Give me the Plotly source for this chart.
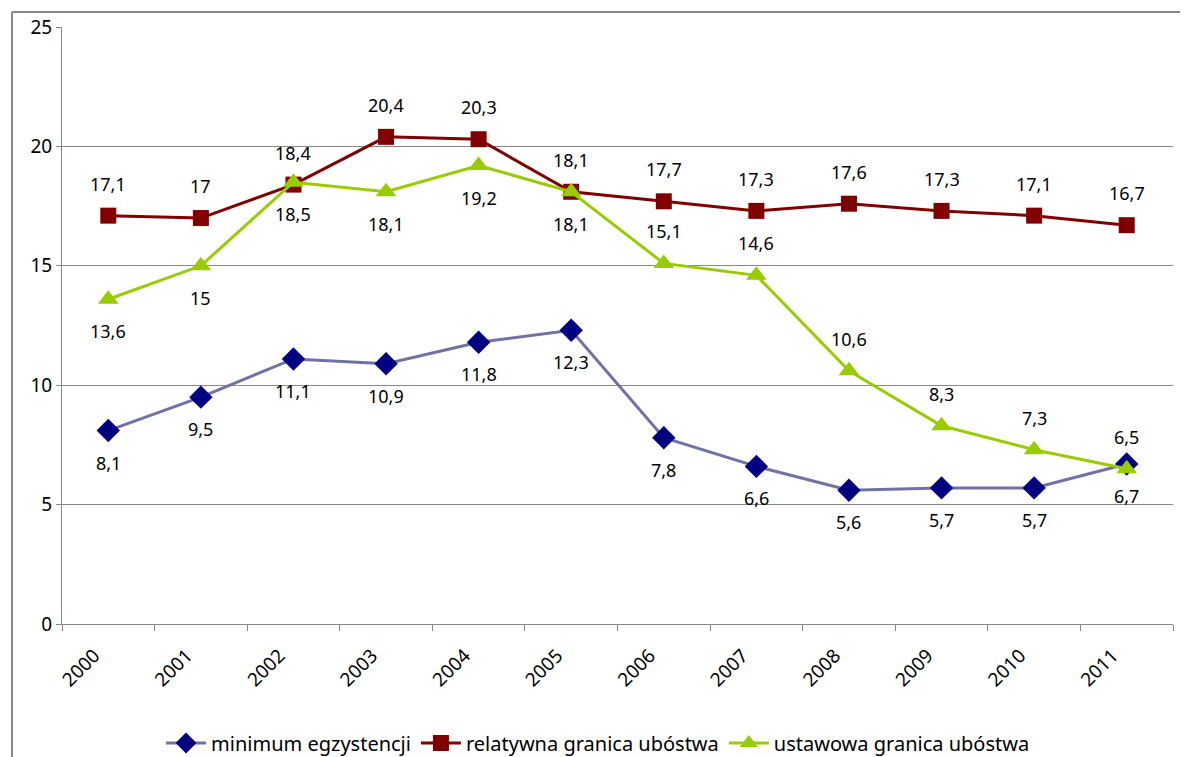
import plotly.graph_objects as go

years = ["2000", "2001", "2002", "2003", "2004", "2005", "2006", "2007", "2008", "2009", "2010", "2011"]
minimum = [8.1, 9.5, 11.1, 10.9, 11.8, 12.3, 7.8, 6.6, 5.6, 5.7, 5.7, 6.7]
relatywna = [17.1, 17.0, 18.4, 20.4, 20.3, 18.1, 17.7, 17.3, 17.6, 17.3, 17.1, 16.7]
ustawowa = [13.6, 15.0, 18.5, 18.1, 19.2, 18.1, 15.1, 14.6, 10.6, 8.3, 7.3, 6.5]

names = ["minimum egzystencji", "relatywna granica ubóstwa", "ustawowa granica ubóstwa"]
# label side per series: +1 above, -1 below
label_side_min = [-1] * 12
label_side_rel = [1] * 12
label_side_ust = [-1] * 6 + [1] * 6

FONT = "Noto Sans"
xs = list(range(len(years)))

def fmt(v):
    s = ("%.1f" % v).rstrip("0").rstrip(".")
    return s.replace(".", ",")

fig = go.Figure()
fig.add_trace(go.Scatter(x=xs, y=minimum, name=names[0], mode="lines+markers",
                         line=dict(color="#7171A6", width=3),
                         marker=dict(symbol="diamond", size=18, color="#000080")))
fig.add_trace(go.Scatter(x=xs, y=relatywna, name=names[1], mode="lines+markers",
                         line=dict(color="#800000", width=3),
                         marker=dict(symbol="square", size=16, color="#800000")))
fig.add_trace(go.Scatter(x=xs, y=ustawowa, name=names[2], mode="lines+markers",
                         line=dict(color="#99CC00", width=3),
                         marker=dict(symbol="triangle-up", size=18, color="#99CC00")))

annotations = []
for series, sides in [(minimum, label_side_min), (relatywna, label_side_rel), (ustawowa, label_side_ust)]:
    for x, v, s in zip(xs, series, sides):
        annotations.append(dict(x=x, y=v, xref="x", yref="y", text=fmt(v), showarrow=False,
                                yshift=32 * s, font=dict(family=FONT, size=18, color="#000000")))

fig.update_layout(
    width=1188, height=775,
    margin=dict(l=54, r=23, t=19, b=159),
    paper_bgcolor="white", plot_bgcolor="white",
    font=dict(family=FONT, size=18, color="#000000"),
    showlegend=True,
    legend=dict(orientation="h", x=0.4825, xanchor="center", y=-0.1993, yanchor="middle",
                font=dict(family=FONT, size=20), itemwidth=40, tracegroupgap=0),
    annotations=annotations,
    shapes=[
        dict(type="line", xref="paper", yref="paper", x0=-0.045, x1=1.03, y0=1.0251, y1=1.0251,
             line=dict(color="#888888", width=2)),
        dict(type="line", xref="paper", yref="paper", x0=-0.045, x1=-0.045, y0=1.0251, y1=-0.26,
             line=dict(color="#888888", width=2)),
    ],
)
fig.update_xaxes(tickmode="array", tickvals=xs, ticktext=years, ticks="",
                 minor=dict(tick0=-0.5, dtick=1, ticks="outside", ticklen=6, tickcolor="#888888", showgrid=False),
                 showline=True, linecolor="#888888", linewidth=1, showgrid=False, zeroline=False,
                 tickangle=-45, tickfont=dict(family=FONT, size=19), range=[-0.5, 11.5], automargin=False,
                 ticklabelshift=-14, ticklabelstandoff=12)
fig.update_yaxes(range=[0, 25], dtick=5, ticks="outside", ticklen=5, tickcolor="#888888",
                 showline=True, linecolor="#888888", linewidth=1, showgrid=True,
                 gridcolor="#888888", gridwidth=1, zeroline=False, automargin=False,
                 tickfont=dict(family=FONT, size=19))

fig.write_html("out.html")
